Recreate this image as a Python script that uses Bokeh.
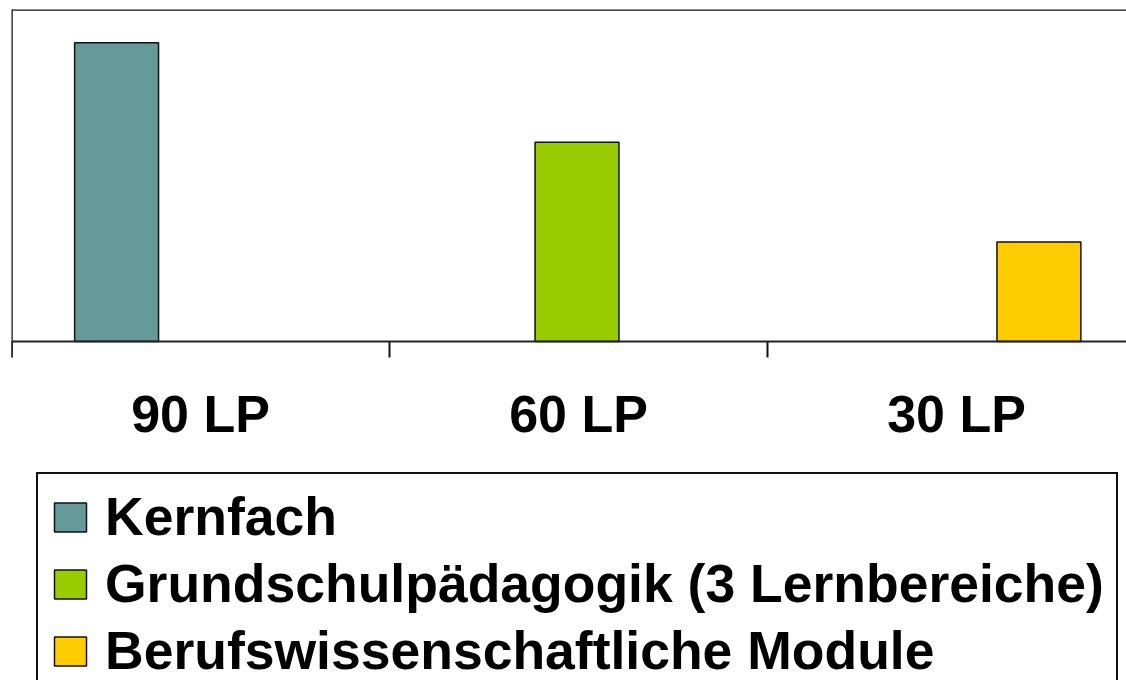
from bokeh.plotting import figure
from bokeh.models import Range1d, Span, Legend, LegendItem, ColumnDataSource
from bokeh.core.properties import value
from bokeh.embed import file_html
from bokeh.resources import INLINE

categories = ["90 LP", "60 LP", "30 LP"]
series = ["Kernfach", "Grundschulpädagogik (3 Lernbereiche)", "Berufswissenschaftliche Module"]
kernfach = [90, 0, 0]
grundschul = [0, 60, 0]
beruf = [0, 0, 30]
colors = ["#669999", "#99CC00", "#FFCC00"]

values = [kernfach, grundschul, beruf]

FONT = "Liberation Sans"

# pixel geometry of the plot area (frame covers from top border to bottom of canvas)
W, H = 1126, 680
top_px, axis_px = 9, 341
units_per_px = 100.0 / (axis_px - top_px)
y_min = -(H - axis_px) * units_per_px
cat_px = 378

p = figure(width=W, height=H, output_backend="svg", toolbar_location=None,
           x_range=Range1d(0, (W - 11) / cat_px), y_range=Range1d(y_min, 100),
           min_border_left=11, min_border_right=0, min_border_top=top_px, min_border_bottom=0)
p.outline_line_color = None
p.xgrid.visible = False
p.ygrid.visible = False
p.xaxis.visible = False
p.yaxis.visible = False
p.background_fill_color = "white"
p.border_fill_color = "white"

bar_w = 0.222
offsets = [-0.222, -0.004, 0.218]
renderers = []
for s, (name, vals, col) in enumerate(zip(series, values, colors)):
    xs, tops = [], []
    for i, v in enumerate(vals):
        if v > 0:
            xs.append(i + 0.5 + offsets[s])
            tops.append(v)
    src = ColumnDataSource(dict(x=xs, top=tops))
    r = p.vbar(x="x", top="top", bottom=0, width=bar_w, source=src,
               fill_color=col, line_color="#111111", line_width=1.5)
    renderers.append(r)

# category axis drawn in the plot: baseline, boundary ticks, labels
tick_len = 16 * units_per_px
p.add_layout(Span(location=0, dimension="width", line_color="#222222", line_width=2))
bounds = list(range(len(categories) + 1))
p.segment(x0=bounds, y0=[0] * len(bounds), x1=bounds, y1=[-tick_len] * len(bounds),
          line_color="#111111", line_width=2)
label_y = -(413 - axis_px) * units_per_px
p.text(x=[i + 0.5 for i in range(len(categories))], y=[label_y] * len(categories),
       text=categories, text_font=value(FONT), text_font_style="bold",
       text_font_size="52px", text_color="black", text_align="center",
       text_baseline="middle")

# top and left borders of the plot area
p.add_layout(Span(location=100, dimension="width", line_color="#111111", line_width=2.5))
p.segment(x0=[0], y0=[-tick_len], x1=[0], y1=[100], line_color="#111111", line_width=2.5)

items = [LegendItem(label=n, renderers=[r]) for n, r in zip(series, renderers)]
legend = Legend(items=items, location=(25, -15), orientation="vertical",
                label_text_font=FONT, label_text_font_style="bold",
                label_text_font_size="53.5px", label_text_color="black",
                glyph_width=40, glyph_height=36, label_standoff=15,
                padding=12, spacing=6, margin=0,
                border_line_color="#111111", border_line_width=2, border_line_alpha=1.0,
                background_fill_color="white", background_fill_alpha=1.0)
p.add_layout(legend, "center")

open("out.html", "w").write(file_html(p, INLINE))
